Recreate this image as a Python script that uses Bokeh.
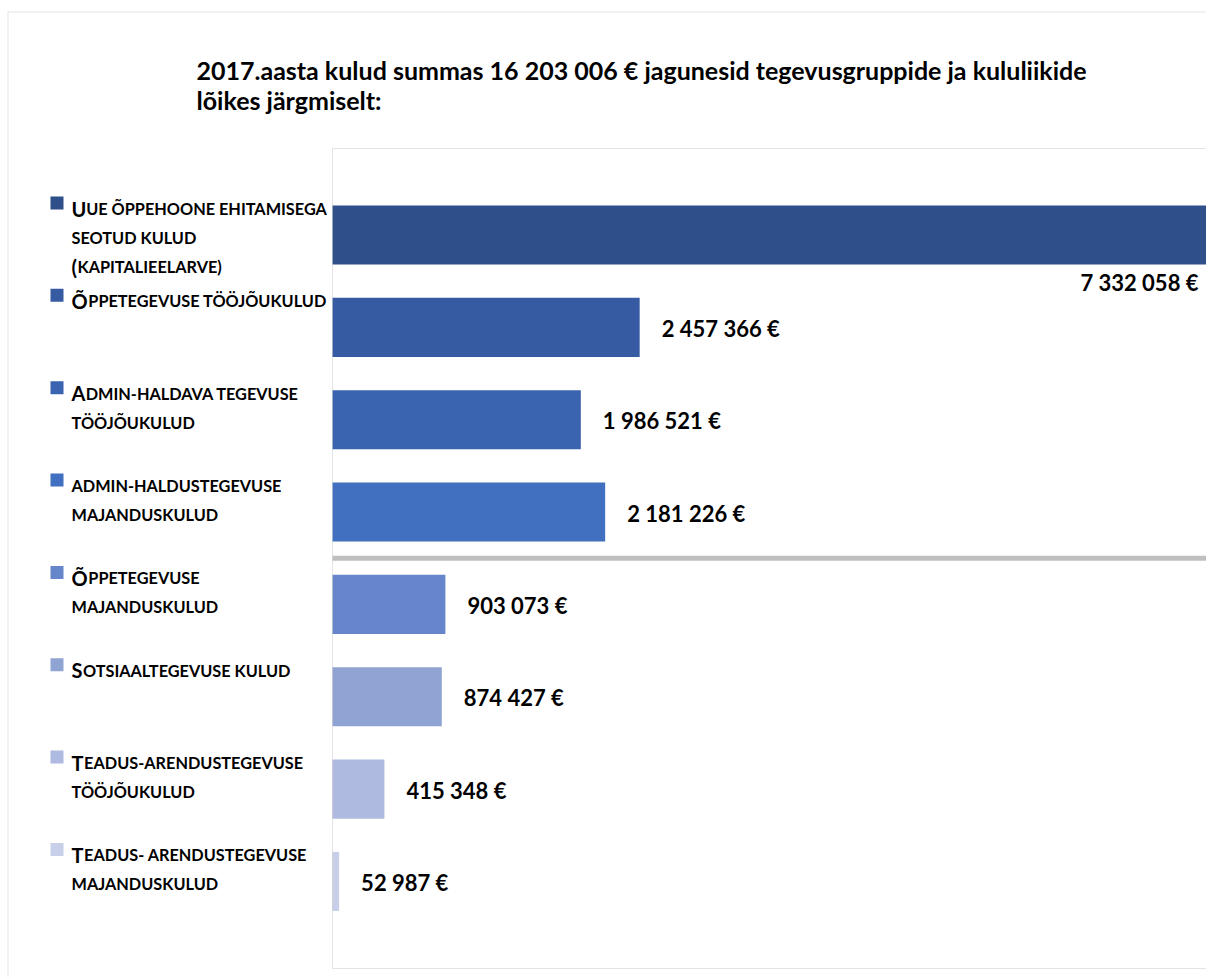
from bokeh.plotting import figure
from bokeh.models import Range1d, BoxAnnotation, ColumnDataSource
from bokeh.embed import file_html
from bokeh.resources import INLINE
from bokeh.core.properties import value

# ---- data ----
title_lines = [
    "2017.aasta kulud summas 16 203 006 € jagunesid tegevusgruppide ja kululiikide",
    "lõikes järgmiselt:",
]
categories = [
    ["Uue õppehoone ehitamisega", "seotud kulud", "(kapitalieelarve)"],
    ["Õppetegevuse tööjõukulud"],
    ["Admin-haldava tegevuse", "tööjõukulud"],
    ["admin-haldustegevuse", "majanduskulud"],
    ["Õppetegevuse", "majanduskulud"],
    ["Sotsiaaltegevuse kulud"],
    ["Teadus-arendustegevuse", "tööjõukulud"],
    ["Teadus- arendustegevuse", "majanduskulud"],
]
values = [7332058, 2457366, 1986521, 2181226, 903073, 874427, 415348, 52987]
value_labels = ["7 332 058 €", "2  457 366 €", "1 986 521 €", "2 181 226 €",
                "903 073 €", "874 427 €", "415 348 €", "52 987 €"]
colors = ["#2F4F8A", "#365BA3", "#3A63B0", "#4170C0",
          "#6685CB", "#8FA4D3", "#AEBADF", "#C8CFE8"]

# ---- layout (pixels) ----
FONT = "Lato"
W, H = 1206, 977
PL, PT, PB = 332, 148, 968          # plot-area left / top / bottom in pixels
SX = 125e-6                          # pixels per euro
n = len(values)
pos = [n - i for i in range(n)]
YT, YB = n + 0.937, 1 - 0.943         # plot-area top / bottom in band units
PX = (PB - PT) / (YT - YB)           # pixels per band unit

def xd(px):
    return (px - PL) / SX

def yd(py):
    return YT - (py - PT) / PX

p = figure(width=W, height=H, x_range=Range1d(xd(0), xd(W)), y_range=Range1d(yd(H), yd(0)),
           x_axis_type=None, y_axis_type=None, toolbar_location=None,
           output_backend="svg", min_border=0, title=None)
p.xgrid.visible = False
p.ygrid.visible = False
p.outline_line_color = None
p.background_fill_color = "white"
p.border_fill_color = "white"

src = ColumnDataSource(dict(y=pos, v=values, c=colors))
p.hbar(y="y", left=0, right="v", height=0.64, fill_color="c", line_color=None, source=src)

# plot-area box
p.add_layout(BoxAnnotation(left=0, right=xd(W + 50), top=YT, bottom=YB,
                           fill_alpha=0, line_color="#A6A6A6", line_width=1))
# outer chart border
p.add_layout(BoxAnnotation(left=xd(7.5), right=xd(W + 50), top=yd(11.5), bottom=yd(H + 50),
                           fill_alpha=0, line_color="#A6A6A6", line_width=1))

# separator line between the two groups of bars
sep = (pos[3] + pos[4]) / 2
p.add_layout(BoxAnnotation(left=0, right=xd(W + 50), top=sep + 2.5 / PX, bottom=sep - 2.5 / PX,
                           fill_color="#BFBFBF", fill_alpha=1, line_color=None))

# value labels
x_end = xd(W)
lx, lxo, lal, lyo = [], [], [], []
for v in values:
    if v > x_end:
        lx.append(x_end); lxo.append(-8); lal.append("right"); lyo.append(47)
    else:
        lx.append(v); lxo.append(22); lal.append("left"); lyo.append(1)
vsrc = ColumnDataSource(dict(x=lx, y=pos, t=value_labels, xo=lxo, al=lal, yo=lyo))
p.text(x="x", y="y", text="t", x_offset="xo", y_offset="yo", text_align="al",
       text_baseline="middle", text_font=value(FONT), text_font_style="bold",
       text_font_size="22px", text_color="black", source=vsrc)

# category labels (small caps imitation) + colour squares
BIG_W = {"U": 14.7, "Õ": 16.8, "A": 14.2, "S": 11.5, "T": 12.6, "(": 6}
TX = 71 - PL
BASE = -26.5      # first-line baseline relative to bar centre (px, down positive)
LSTEP = 29
seg = dict(y=[], t=[], xo=[], yo=[], fs=[])
for i, lines in enumerate(categories):
    p.add_layout(BoxAnnotation(left=xd(50), right=xd(63),
                               top=pos[i] - (BASE - 12) / PX, bottom=pos[i] - (BASE + 1) / PX,
                               fill_color=colors[i], fill_alpha=1, line_color=None))
    for k, line in enumerate(lines):
        yo = BASE + LSTEP * k
        if line[0].isupper() or line[0] == "(":
            big, rest = line[0], line[1:].upper()
        else:
            big, rest = "", line.upper()
        off = TX
        if big:
            seg["y"].append(pos[i]); seg["t"].append(big); seg["xo"].append(TX)
            seg["yo"].append(yo); seg["fs"].append("20px")
            off = TX + BIG_W.get(big, 13)
        seg["y"].append(pos[i]); seg["t"].append(rest); seg["xo"].append(off)
        seg["yo"].append(yo); seg["fs"].append("16.3px")
seg["x"] = [0] * len(seg["y"])
p.text(x="x", y="y", text="t", x_offset="xo", y_offset="yo", text_font_size="fs",
       text_align="left", text_baseline="alphabetic", text_font=value(FONT),
       text_font_style="bold", text_color="black", source=ColumnDataSource(seg))

# title
tsrc = ColumnDataSource(dict(x=[0] * len(title_lines), y=[YT] * len(title_lines), t=title_lines,
                             yo=[-(PT - 69) + 30 * k for k in range(len(title_lines))]))
p.text(x="x", y="y", text="t", x_offset=196 - PL, y_offset="yo", text_align="left",
       text_baseline="alphabetic", text_font=value(FONT), text_font_style="bold",
       text_font_size="25px", text_color="black", source=tsrc)

open("out.html", "w").write(file_html(p, INLINE))
